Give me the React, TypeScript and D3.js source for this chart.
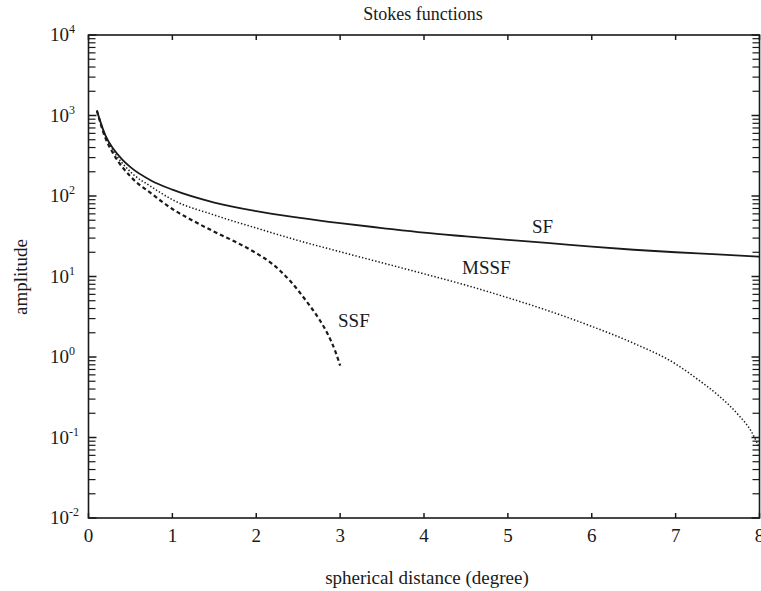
import React from "react";
import * as d3 from "d3";

const W = 761;
const H = 591;

const xTicks = [0, 1, 2, 3, 4, 5, 6, 7, 8];
const yExponents = [4, 3, 2, 1, 0, -1, -2];
const yExpLabels = ["4", "3", "2", "1", "0", "-1", "-2"];

const sfX = [0.1, 0.2, 0.3, 0.4, 0.5, 0.75, 1, 1.5, 2, 2.5, 3, 3.5, 4, 4.5, 5, 5.5, 6, 6.5, 7, 7.5, 8];
const sfY = [1150, 570, 380, 285, 228, 155, 120, 83, 65, 54, 46, 40, 35, 31.5, 28.5, 26, 23.5, 21.5, 20, 18.8, 17.6];

const mssfX = [0.1, 0.2, 0.3, 0.5, 0.75, 1, 1.5, 2, 2.5, 3, 3.5, 4, 4.5, 5, 5.5, 6, 6.5, 7, 7.25, 7.5, 7.75, 7.9, 8];
const mssfY = [1150, 560, 360, 200, 130, 90, 58, 40, 28, 20.3, 14.8, 10.8, 7.8, 5.45, 3.7, 2.4, 1.48, 0.82, 0.54, 0.34, 0.19, 0.12, 0.074];

const ssfX = [0.1, 0.2, 0.3, 0.5, 0.75, 1, 1.25, 1.5, 1.75, 2, 2.2, 2.4, 2.6, 2.75, 2.85, 2.95, 3.0];
const ssfY = [1150, 530, 330, 175, 107, 69, 49, 36, 27, 19.5, 14.1, 8.9, 4.9, 2.95, 1.95, 1.12, 0.78];

const title = "Stokes functions";
const xTitle = "spherical distance (degree)";
const yTitle = "amplitude";

export default function App() {
  const left = 88.5;
  const right = 759.5;
  const top = 35;
  const bottom = 518;
  const x = d3.scaleLinear().domain([0, 8]).range([left, right]);
  const y = d3.scaleLog().domain([1e-2, 1e4]).range([bottom, top]);

  const mk = (xs: number[], ys: number[]) =>
    d3
      .line<number>()
      .x((_, i) => x(xs[i]))
      .y((v) => y(v))
      .curve(d3.curveMonotoneX)(ys) || "";

  const minor: number[] = [];
  for (let e = -2; e < 4; e++) {
    for (let k = 2; k <= 9; k++) minor.push(k * Math.pow(10, e));
  }
  const ink = "#1a1a1a";
  const font = "'Liberation Serif', 'DejaVu Serif', serif";

  return (
    <svg
      width={W}
      height={H}
      style={{ position: "absolute", left: 0, top: 0, background: "#fff" }}
      fontFamily={font}
    >
      <rect x={0} y={0} width={W} height={H} fill="#fff" />
      <rect x={left} y={top} width={right - left} height={bottom - top} fill="none" stroke={ink} strokeWidth={1.6} />
      {xTicks.map((t) => (
        <g key={"xt" + t}>
          <line x1={x(t)} x2={x(t)} y1={bottom} y2={bottom - 5} stroke={ink} strokeWidth={1.5} />
          <line x1={x(t)} x2={x(t)} y1={top} y2={top + 5} stroke={ink} strokeWidth={1.5} />
          <text x={x(t)} y={542} textAnchor="middle" fontSize={19} fill={ink}>
            {t}
          </text>
        </g>
      ))}
      {yExponents.map((e, i) => (
        <g key={"yt" + e}>
          <line x1={left} x2={left + 8} y1={y(Math.pow(10, e))} y2={y(Math.pow(10, e))} stroke={ink} strokeWidth={1.5} />
          <line x1={right} x2={right - 8} y1={y(Math.pow(10, e))} y2={y(Math.pow(10, e))} stroke={ink} strokeWidth={1.5} />
          <text x={50} y={y(Math.pow(10, e)) + 6} fontSize={19} fill={ink}>
            10
            <tspan dy={-8} fontSize={12}>
              {yExpLabels[i]}
            </tspan>
          </text>
        </g>
      ))}
      {minor.map((v, i) => (
        <g key={"mn" + i}>
          <line x1={left} x2={left + 7} y1={y(v)} y2={y(v)} stroke={ink} strokeWidth={1.2} />
          <line x1={right} x2={right - 7} y1={y(v)} y2={y(v)} stroke={ink} strokeWidth={1.2} />
        </g>
      ))}
      <path d={mk(sfX, sfY)} fill="none" stroke={ink} strokeWidth={1.8} />
      <path d={mk(mssfX, mssfY)} fill="none" stroke={ink} strokeWidth={1.5} strokeDasharray="1.4 2" />
      <path d={mk(ssfX, ssfY)} fill="none" stroke={ink} strokeWidth={2.2} strokeDasharray="4 3" />
      <text x={532} y={233} fontSize={19} fill={ink}>SF</text>
      <text x={462} y={274} fontSize={19} fill={ink}>MSSF</text>
      <text x={338} y={327} fontSize={19} fill={ink}>SSF</text>
      <text x={423} y={20} textAnchor="middle" fontSize={18} fill={ink}>
        {title}
      </text>
      <text x={427} y={584} textAnchor="middle" fontSize={19} fill={ink}>
        {xTitle}
      </text>
      <text transform="translate(27,277) rotate(-90)" textAnchor="middle" fontSize={19} fill={ink}>
        {yTitle}
      </text>
    </svg>
  );
}
